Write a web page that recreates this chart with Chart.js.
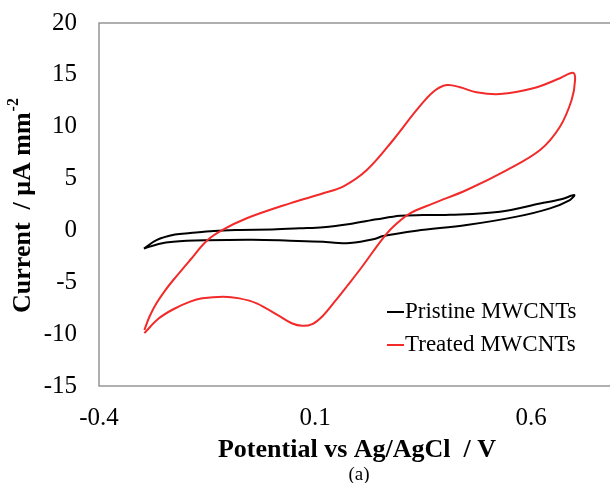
<!DOCTYPE html>
<html>
<head>
<meta charset="utf-8">
<script src="https://cdn.jsdelivr.net/npm/chart.js@4.4.1/dist/chart.umd.min.js"></script>
<style>
  html, body { margin: 0; padding: 0; background: #fff; overflow: hidden; }
  #wrap { width: 610px; height: 483px; overflow: hidden; }
</style>
</head>
<body>
<div id="wrap"><canvas id="cv" width="760" height="483"></canvas></div>
<script>
// Pristine MWCNTs: forward (upper) branch then reverse (lower) branch
const pristineV = [-0.296, -0.267, -0.224, -0.189, -0.134, -0.074, 0.001, 0.065, 0.119, 0.181, 0.243, 0.297, 0.35, 0.413, 0.528, 0.621, 0.67, 0.700,
  0.690, 0.644, 0.567, 0.451, 0.335, 0.258, 0.235, 0.181, 0.145, 0.119, 0.042, -0.044, -0.151, -0.228, -0.262, -0.296];
const pristineI = [-1.75, -0.93, -0.4, -0.25, -0.05, 0.04, 0.1, 0.2, 0.3, 0.62, 1.07, 1.42, 1.48, 1.5, 1.8, 2.6, 3.0, 3.41,
  2.93, 2.13, 1.33, 0.52, -0.03, -0.54, -0.86, -1.22, -1.18, -1.09, -0.99, -0.9, -0.95, -1.08, -1.3, -1.75];

// Treated MWCNTs
const treatedV = [-0.295, -0.283, -0.267, -0.248, -0.228, -0.189, -0.151, -0.116, -0.058, 0.042, 0.119, 0.166, 0.22, 0.281, 0.335, 0.374, 0.405, 0.436, 0.474, 0.528, 0.605, 0.667, 0.697,
  0.702, 0.694, 0.667, 0.621, 0.544, 0.451, 0.374, 0.32, 0.281, 0.254, 0.209, 0.173, 0.145, 0.119, 0.095, 0.071, 0.046, 0.015, -0.035, -0.075, -0.112, -0.161, -0.189, -0.228, -0.262, -0.295];
const treatedI = [-9.6, -8.3, -7.03, -5.85, -4.78, -2.85, -1.02, 0.0, 1.17, 2.61, 3.58, 4.25, 5.82, 8.72, 11.6, 13.38, 14.02, 13.8, 13.32, 13.15, 13.7, 14.67, 15.2,
  14.5, 12.57, 10.0, 7.75, 5.82, 3.9, 2.61, 1.65, 0.36, -0.93, -3.5, -5.43, -6.9, -8.2, -9.0, -9.2, -8.95, -8.2, -7.03, -6.55, -6.39, -6.55, -6.87, -7.6, -8.5, -9.9];

const xTicks = [-0.4, 0.1, 0.6];
const yTicks = [-15, -10, -5, 0, 5, 10, 15, 20];

const toPts = (xs, ys) => xs.map((x, i) => ({ x, y: ys[i] }));

const serif = '"Liberation Serif", "Times New Roman", serif';

const frameAndText = {
  id: "frameAndText",
  afterDraw(chart) {
    const { ctx, chartArea: a } = chart;
    ctx.save();
    ctx.strokeStyle = "#868686";
    ctx.lineWidth = 1.3;
    ctx.strokeRect(a.left, a.top, a.right - a.left, a.bottom - a.top);

    // x title + caption
    ctx.fillStyle = "#000";
    ctx.textAlign = "center";
    ctx.textBaseline = "middle";
    ctx.font = "bold 26px " + serif;
    ctx.fillText("Potential vs Ag/AgCl  / V", 357, 450);
    ctx.font = "19px " + serif;
    ctx.fillText("(a)", 359, 475);

    // y title with superscript
    ctx.save();
    ctx.translate(23, 206);
    ctx.rotate(-Math.PI / 2);
    ctx.font = "bold 26px " + serif;
    const main = "Current  / \u03bcA mm";
    const wMain = ctx.measureText(main).width;
    ctx.font = "bold 16px " + serif;
    const wSup = ctx.measureText("-2").width;
    const x0 = -(wMain + wSup) / 2;
    ctx.textAlign = "left";
    ctx.font = "bold 26px " + serif;
    ctx.fillText(main, x0, 0);
    ctx.font = "bold 16px " + serif;
    ctx.fillText("-2", x0 + wMain + 1, -9);
    ctx.restore();

    // legend inside plot
    ctx.font = "23px " + serif;
    ctx.textAlign = "left";
    const rows = [[312, 0], [345, 1]];
    rows.forEach(([y, idx]) => {
      const ds = chart.data.datasets[idx];
      ctx.strokeStyle = ds.borderColor;
      ctx.lineWidth = 2;
      ctx.beginPath();
      ctx.moveTo(387, y);
      ctx.lineTo(404, y);
      ctx.stroke();
      ctx.fillStyle = "#000";
      ctx.fillText(ds.label, 405, y);
    });
    ctx.restore();
  }
};

new Chart(document.getElementById("cv").getContext("2d"), {
  type: "scatter",
  data: {
    datasets: [
      {
        label: "Pristine MWCNTs",
        data: toPts(pristineV, pristineI),
        showLine: true,
        borderColor: "#000000",
        borderWidth: 2,
        pointRadius: 0,
        tension: 0.35,
        order: 2
      },
      {
        label: "Treated MWCNTs",
        data: toPts(treatedV, treatedI),
        showLine: true,
        borderColor: "#f22a2a",
        borderWidth: 2,
        pointRadius: 0,
        tension: 0.35,
        order: 1
      }
    ]
  },
  options: {
    responsive: false,
    animation: false,
    layout: { padding: { left: 0, top: 23, right: 13, bottom: 0 } },
    plugins: { legend: { display: false }, tooltip: { enabled: false } },
    scales: {
      x: {
        type: "linear",
        min: -0.4,
        max: 1.1,
        afterBuildTicks: s => { s.ticks = xTicks.map(v => ({ value: v })); },
        afterFit: s => { s.height = 97; s.paddingLeft = 0; s.paddingRight = 0; },
        grid: { display: false, drawTicks: false },
        border: { display: false },
        ticks: {
          padding: 17,
          color: "#000",
          font: { family: serif, size: 25 },
          maxRotation: 0,
          callback: v => String(Math.round(v * 10) / 10)
        }
      },
      y: {
        min: -15,
        max: 20,
        afterBuildTicks: s => { s.ticks = yTicks.map(v => ({ value: v })); },
        afterFit: s => { s.width = 99; s.paddingTop = 0; s.paddingBottom = 0; },
        grid: { display: false, drawTicks: false },
        border: { display: false },
        ticks: {
          padding: 22,
          color: "#000",
          font: { family: serif, size: 25 }
        }
      }
    }
  },
  plugins: [frameAndText]
});
</script>
</body>
</html>
